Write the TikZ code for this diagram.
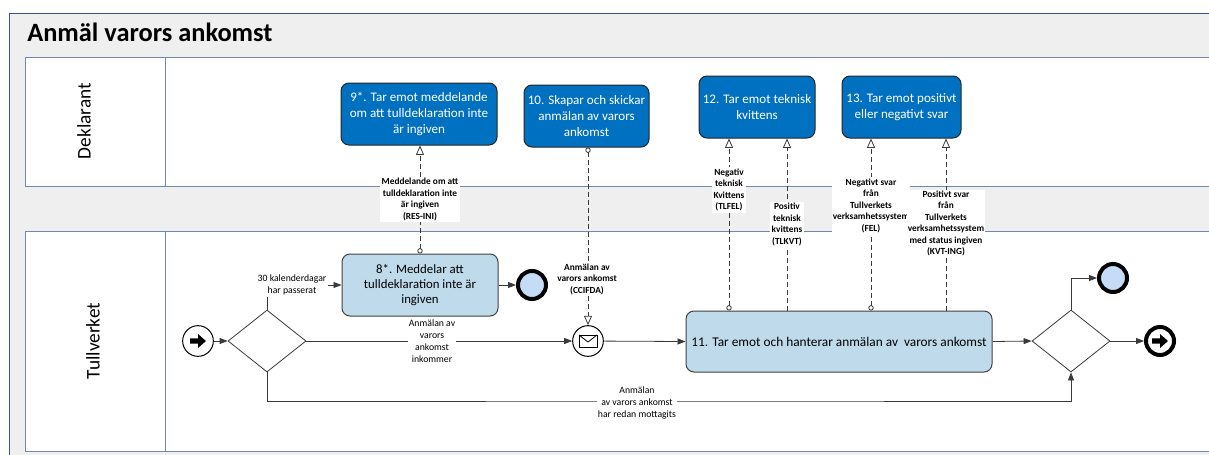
\documentclass[tikz,border=0pt]{standalone}
\usepackage{fontspec}
\setmainfont{Carlito}
\usetikzlibrary{arrows.meta,shapes.geometric}
\definecolor{bgGrey}{HTML}{EFEFEF}
\definecolor{frameBlue}{HTML}{3B5486}
\definecolor{laneLine}{HTML}{7188AE}
\definecolor{taskDark}{HTML}{0070C0}
\definecolor{taskLight}{HTML}{BFDBEB}
\definecolor{endFill}{HTML}{C4DCF6}
\definecolor{flowGrey}{HTML}{3A3A3A}
\tikzset{
  darktask/.style={draw=black!85, fill=taskDark, rounded corners=6pt, text=white, align=center,
    font=\fontsize{9.8}{12}\selectfont, line width=0.75pt, inner sep=0pt},
  lighttask/.style={draw=black!75, fill=taskLight, rounded corners=6pt, align=center,
    font=\fontsize{9.6}{11.2}\selectfont, line width=0.75pt, inner sep=0pt},
  gate/.style={diamond, draw=flowGrey, fill=white, minimum width=58.5pt, minimum height=46.5pt,
    inner sep=0pt, line width=0.6pt},
  startev/.style={circle, draw=black, fill=white, line width=0.75pt, minimum size=23pt, inner sep=0pt},
  endev/.style={circle, draw=black, line width=3pt, minimum size=21pt, inner sep=0pt},
  seqflow/.style={draw=flowGrey, line width=0.6pt, -{Triangle[length=6pt,width=4.5pt]}},
  msgflow/.style={draw=flowGrey, line width=0.6pt, dash pattern=on 3.5pt off 2.5pt,
    -{Triangle[open,length=7pt,width=6pt]}},
  msgflowc/.style={msgflow, {Circle[open,length=4pt]}-{Triangle[open,length=7pt,width=6pt]}},
  msglabel/.style={fill=white, inner sep=1pt, align=center, font=\fontsize{7}{8.6}\selectfont\bfseries},
  seqlabel/.style={fill=white, inner sep=1pt, align=center, font=\fontsize{7.3}{9}\selectfont},
  lanelabel/.style={rotate=90, font=\fontsize{14.5}{16}\selectfont},
  lane/.style={draw=laneLine, fill=white, line width=0.75pt},
}
\begin{document}
\begin{tikzpicture}[x=0.75pt,y=-0.75pt]
\useasboundingbox (0,0) rectangle (1209,454);
\clip (0,0) rectangle (1209,454);
\fill[white] (0,0) rectangle (1209,454);
\draw[frameBlue, fill=bgGrey, line width=0.75pt] (9,13) rectangle (1240,480);
\node[anchor=base west, inner sep=0pt, font=\fontsize{19.8}{22}\selectfont\bfseries] (title) at (27,41) {Anmäl varors ankomst};
% lanes
\draw[lane] (25,57) rectangle (1240,186);
\draw[laneLine, line width=0.75pt] (165,57) -- (165,186);
\draw[lane] (25,231) rectangle (1240,451);
\draw[laneLine, line width=0.75pt] (165,231) -- (165,451);
\node[lanelabel] (lane1) at (84,121) {Deklarant};
\node[lanelabel] (lane2) at (93,341) {Tullverket};

% tasks
\node[darktask, minimum width=117pt, minimum height=46.5pt] (t9) at (419,114)
  {9*. Tar emot meddelande\\om att tulldeklaration inte\\är ingiven};
\node[darktask, minimum width=93.75pt, minimum height=46.5pt] (t10) at (586.5,116)
  {10. Skapar och skickar\\anmälan av varors\\ankomst};
\node[darktask, minimum width=87pt, minimum height=46.5pt] (t12) at (757,107)
  {12. Tar emot teknisk\\kvittens};
\node[darktask, minimum width=89.25pt, minimum height=46.5pt] (t13) at (901.5,107)
  {13. Tar emot positivt\\eller negativt svar};
\node[lighttask, minimum width=117pt, minimum height=46.5pt] (t8) at (420,285)
  {8*. Meddelar att\\tulldeklaration inte är\\ingiven};
\node[lighttask, font=\fontsize{10}{12}\selectfont, minimum width=229.5pt, minimum height=45.75pt] (t11) at (839,341.5)
  {11. Tar emot och hanterar anmälan av~ varors ankomst};

% gateways and events
\node[gate] (g1) at (267,341) {};
\node[gate] (g2) at (1071,341) {};
\node[startev] (start) at (198,341) {};
\node[startev] (msg) at (588,341) {};
\node[endev, fill=endFill] (e8) at (532,285) {};
\node[endev, fill=endFill] (e2) at (1113,278) {};
\node[endev, fill=white] (eend) at (1160,341) {};

% icons
\begin{scope}[shift={(start.center)}]
  \fill[black] (-8,-2.6) -- (0,-2.6) -- (0,-7) -- (8,0) -- (0,7) -- (0,2.6) -- (-8,2.6) -- cycle;
\end{scope}
\begin{scope}[shift={(eend.center)}]
  \fill[black] (-8,-2.6) -- (0,-2.6) -- (0,-7) -- (8,0) -- (0,7) -- (0,2.6) -- (-8,2.6) -- cycle;
\end{scope}
\begin{scope}[shift={(msg.center)}]
  \draw[black, line width=0.6pt, line join=round] (-9,-6) rectangle (9,6);
  \draw[black, line width=0.6pt, line join=round] (-9,-6) -- (0,1) -- (9,-6);
\end{scope}

% sequence flows
\coordinate (low) at (700,401);
\draw[seqflow] (start) -- (g1.west);
\draw[seqflow] (g1.north) |- (t8.west);
\draw[seqflow] (t8) -- (e8);
\draw[seqflow] (g1.east) -- (msg.west);
\draw[seqflow] (msg) -- (t11.west);
\draw[seqflow] (g1.south) |- (low) -| (g2.south);
\draw[seqflow] (t11.east) -- (g2.west);
\draw[seqflow] (g2.north) |- (e2.west);
\draw[seqflow] (g2.east) -- (eend);

% message flows
\coordinate (m1) at (729,200);
\coordinate (m2) at (787,200);
\coordinate (m3) at (871,200);
\coordinate (m4) at (946,200);
\draw[msgflowc] (t8.north) -- (t8.north |- t9.south);
\draw[msgflowc] (msg.north |- t10.south) -- (msg.north);
\draw[msgflowc] (m1 |- t11.north) -- (m1 |- t12.south);
\draw[msgflow] (m2 |- t11.north) -- (m2 |- t12.south);
\draw[msgflowc] (m3 |- t11.north) -- (m3 |- t13.south);
\draw[msgflow] (m4 |- t11.north) -- (m4 |- t13.south);

% labels
\node[msglabel] (l1) at (420,199.5) {Meddelande om att\\tulldeklaration inte\\är ingiven\\(RES-INI)};
\node[msglabel] (l2) at (587,279) {Anmälan av\\varors ankomst\\(CCIFDA)};
\node[msglabel] (l3) at (729,190) {Negativ\\teknisk\\Kvittens\\(TLFEL)};
\node[msglabel] (l4) at (787,224.5) {Positiv\\teknisk\\kvittens\\(TLKVT)};
\node[msglabel] (l5) at (871,205.5) {Negativt svar\\från\\Tullverkets\\verksamhetssystem\\(FEL)};
\node[msglabel] (l6) at (946,223.5) {Positivt svar\\från\\Tullverkets\\verksamhetssystem\\med status ingiven\\(KVT-ING)};
\node[seqlabel] (s1) at (292,285) {30 kalenderdagar\\har passerat};
\node[seqlabel] (s2) at (432,341) {Anmälan av\\varors\\ankomst\\inkommer};
\node[seqlabel] (s3) at (637,403) {Anmälan\\av varors ankomst\\har redan mottagits};
\end{tikzpicture}
\end{document}
